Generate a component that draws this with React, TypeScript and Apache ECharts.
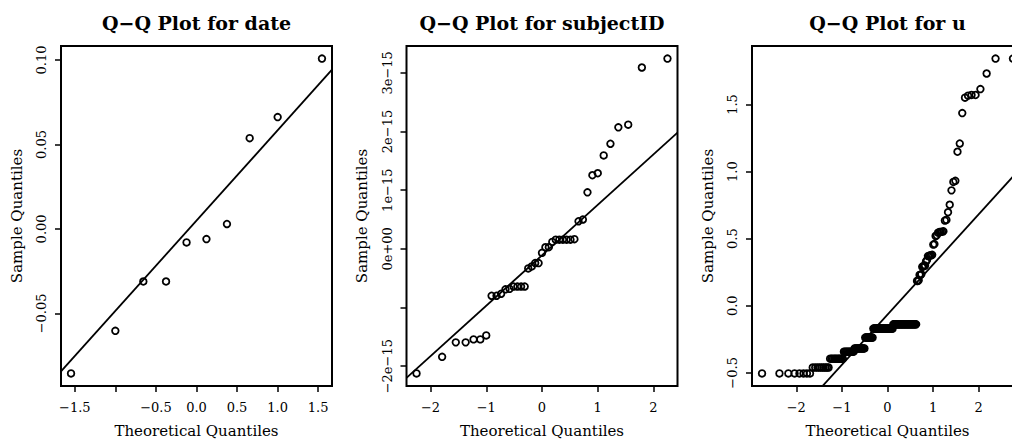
import React, { useEffect, useRef } from "react";
import * as echarts from "echarts";

// ---------- data (sample quantiles, sorted) ----------
const dateSample = [-0.0855, -0.0603, -0.0311, -0.0311, -0.008, -0.006, 0.0029, 0.0537, 0.0662, 0.1008];

// subjectID sample quantiles, in units of 1e-15
const subjectSample = [
  -2.123, -1.841, -1.594, -1.594, -1.543, -1.543, -1.476, -0.8, -0.8, -0.766,
  -0.69, -0.682, -0.642, -0.642, -0.642, -0.642, -0.333, -0.299, -0.243, -0.243,
  -0.068, 0.028, 0.028, 0.118, 0.157, 0.157, 0.157, 0.157, 0.157, 0.165,
  0.47, 0.5, 0.963, 1.255, 1.289, 1.593, 1.791, 2.071, 2.117, 3.091, 3.243,
];

const uSample = [
  -0.504, -0.504, -0.504, -0.504, -0.504, -0.504, -0.504, -0.504,
  -0.46, -0.46, -0.46, -0.46, -0.46, -0.46, -0.46, -0.46, -0.46,
  -0.394, -0.394, -0.394, -0.394, -0.394, -0.394, -0.394, -0.394, -0.394, -0.394, -0.394,
  -0.342, -0.342, -0.342, -0.342, -0.342, -0.342, -0.342, -0.342, -0.342, -0.342, -0.342,
  -0.318, -0.318, -0.318, -0.318, -0.318, -0.318, -0.318, -0.318, -0.318, -0.318, -0.318, -0.318, -0.318,
  -0.237, -0.237, -0.237, -0.237, -0.237, -0.237, -0.237, -0.237, -0.237, -0.237, -0.237,
  -0.17, -0.17, -0.17, -0.17, -0.17, -0.17, -0.17, -0.17, -0.17, -0.17,
  -0.17, -0.17, -0.17, -0.17, -0.17, -0.17, -0.17, -0.17, -0.17, -0.17,
  -0.17, -0.17, -0.17, -0.17, -0.17, -0.17, -0.17, -0.17, -0.17,
  -0.138, -0.138, -0.138, -0.138, -0.138, -0.138, -0.138, -0.138, -0.138, -0.138,
  -0.138, -0.138, -0.138, -0.138, -0.138, -0.138, -0.138, -0.138, -0.138, -0.138,
  -0.138, -0.138, -0.138, -0.138, -0.138, -0.138, -0.138, -0.138, -0.138, -0.138,
  -0.138, -0.138,
  0.185, 0.185, 0.19, 0.23, 0.23, 0.235, 0.29, 0.295, 0.296, 0.3,
  0.33, 0.34, 0.37, 0.372, 0.374, 0.376, 0.38, 0.456, 0.46,
  0.52, 0.525, 0.545, 0.549, 0.55, 0.552, 0.555,
  0.635, 0.64, 0.697, 0.753, 0.86,
  0.923, 0.931, 1.148, 1.209, 1.436,
  1.551, 1.566, 1.571, 1.571, 1.615,
  1.731, 1.842, 1.842,
];

// ---------- ticks / labels ----------
const titles = ["Q\u2212Q Plot for date", "Q\u2212Q Plot for subjectID", "Q\u2212Q Plot for u"];

const dateXTicks = [-1.5, -1, -0.5, 0, 0.5, 1, 1.5];
const dateXLabelValues = [-1.5, -0.5, 0, 0.5, 1, 1.5];
const dateXLabelText = ["\u22121.5", "\u22120.5", "0.0", "0.5", "1.0", "1.5"];
const dateYTicks = [-0.05, 0, 0.05, 0.1];
const dateYLabelText = ["\u22120.05", "0.00", "0.05", "0.10"];

const subjXTicks = [-2, -1, 0, 1, 2];
const subjXLabelText = ["\u22122", "\u22121", "0", "1", "2"];
const subjYTicks = [-2, -1, 0, 1, 2, 3];
const subjYLabelValues = [-2, 0, 1, 2, 3];
const subjYLabelText = ["\u22122e\u221215", "0e+00", "1e\u221215", "2e\u221215", "3e\u221215"];

const uXTicks = [-2, -1, 0, 1, 2];
const uXLabelText = ["\u22122", "\u22121", "0", "1", "2"];
const uYTicks = [-0.5, 0, 0.5, 1, 1.5];
const uYLabelText = ["\u22120.5", "0.0", "0.5", "1.0", "1.5"];

// ---------- helpers (R's qqnorm / qqline) ----------
function qnorm(p: number): number {
  const a = [-3.969683028665376e1, 2.209460984245205e2, -2.759285104469687e2, 1.38357751867269e2, -3.066479806614716e1, 2.506628277459239];
  const b = [-5.447609879822406e1, 1.615858368580409e2, -1.556989798598866e2, 6.680131188771972e1, -1.328068155288572e1];
  const c = [-7.784894002430293e-3, -3.223964580411365e-1, -2.400758277161838, -2.549732539343734, 4.374664141464968, 2.938163982698783];
  const d = [7.784695709041462e-3, 3.224671290700398e-1, 2.445134137142996, 3.754408661907416];
  const pl = 0.02425;
  if (p < pl) {
    const q = Math.sqrt(-2 * Math.log(p));
    return (((((c[0] * q + c[1]) * q + c[2]) * q + c[3]) * q + c[4]) * q + c[5]) / ((((d[0] * q + d[1]) * q + d[2]) * q + d[3]) * q + 1);
  }
  if (p <= 1 - pl) {
    const q = p - 0.5;
    const r = q * q;
    return ((((((a[0] * r + a[1]) * r + a[2]) * r + a[3]) * r + a[4]) * r + a[5]) * q) / (((((b[0] * r + b[1]) * r + b[2]) * r + b[3]) * r + b[4]) * r + 1);
  }
  const q = Math.sqrt(-2 * Math.log(1 - p));
  return -(((((c[0] * q + c[1]) * q + c[2]) * q + c[3]) * q + c[4]) * q + c[5]) / ((((d[0] * q + d[1]) * q + d[2]) * q + d[3]) * q + 1);
}
function theoretical(n: number): number[] {
  const a = n <= 10 ? 0.375 : 0.5;
  const out: number[] = [];
  for (let i = 1; i <= n; i++) out.push(qnorm((i - a) / (n + 1 - 2 * a)));
  return out;
}
function quantile7(s: number[], p: number): number {
  const h = (s.length - 1) * p;
  const lo = Math.floor(h);
  const hi = Math.min(lo + 1, s.length - 1);
  return s[lo] + (h - lo) * (s[hi] - s[lo]);
}
function expand(min: number, max: number): [number, number] {
  const d = (max - min) * 0.04;
  return [min - d, max + d];
}
function labelFor(values: number[], texts: string[]) {
  return (v: number) => {
    let best = 0;
    for (let i = 1; i < values.length; i++) if (Math.abs(values[i] - v) < Math.abs(values[best] - v)) best = i;
    return texts[best];
  };
}

const SERIF = "'DejaVu Serif', serif";

export default function App() {
  const ref = useRef<HTMLDivElement>(null);
  useEffect(() => {
    if (!ref.current) return;
    const chart = echarts.init(ref.current, undefined, { renderer: "svg" });

    const panels = [
      { y: dateSample, xT: dateXTicks, xLV: dateXLabelValues, xLT: dateXLabelText, yT: dateYTicks, yLV: dateYTicks, yLT: dateYLabelText },
      { y: subjectSample, xT: subjXTicks, xLV: subjXTicks, xLT: subjXLabelText, yT: subjYTicks, yLV: subjYLabelValues, yLT: subjYLabelText },
      { y: uSample, xT: uXTicks, xLV: uXTicks, xLT: uXLabelText, yT: uYTicks, yLV: uYTicks, yLT: uYLabelText },
    ];

    const PANEL_W = 345.5;
    const GRID_LEFT = 61;
    const GRID_W = 271;
    const GRID_TOP = 46;
    const GRID_H = 343;

    const grids: any[] = [];
    const xAxes: any[] = [];
    const yAxes: any[] = [];
    const series: any[] = [];
    const graphics: any[] = [];

    panels.forEach((p, k) => {
      const n = p.y.length;
      const xs = theoretical(n);
      const [xmin, xmax] = expand(xs[0], xs[n - 1]);
      const [ymin, ymax] = expand(p.y[0], p.y[n - 1]);
      const y1 = quantile7(p.y, 0.25);
      const y2 = quantile7(p.y, 0.75);
      const x1 = qnorm(0.25);
      const x2 = qnorm(0.75);
      const slope = (y2 - y1) / (x2 - x1);
      const icpt = y1 - slope * x1;

      const left = GRID_LEFT + PANEL_W * k;
      grids.push({ left, top: GRID_TOP, width: GRID_W, height: GRID_H, show: true, borderColor: "#000", borderWidth: 2, backgroundColor: "transparent" });
      xAxes.push({
        type: "value", gridIndex: k, min: xmin, max: xmax, position: "bottom",
        axisLine: { show: false, onZero: false }, splitLine: { show: false },
        axisTick: { show: true, customValues: p.xT, length: 6, inside: false, lineStyle: { color: "#000", width: 1.5 } },
        axisLabel: { customValues: p.xLV, formatter: labelFor(p.xLV, p.xLT), margin: 15, color: "#000", fontFamily: SERIF, fontSize: 13 },
        name: "Theoretical Quantiles", nameLocation: "middle", nameGap: 37,
        nameTextStyle: { color: "#000", fontFamily: SERIF, fontSize: 15 },
      });
      yAxes.push({
        type: "value", gridIndex: k, min: ymin, max: ymax, position: "left",
        axisLine: { show: false, onZero: false }, splitLine: { show: false },
        axisTick: { show: true, customValues: p.yT, length: 6, inside: false, lineStyle: { color: "#000", width: 1.5 } },
        axisLabel: { customValues: p.yLV, formatter: labelFor(p.yLV, p.yLT), rotate: 90, margin: 13, color: "#000", fontFamily: SERIF, fontSize: 13 },
        name: "Sample Quantiles", nameLocation: "middle", nameGap: 37, nameRotate: 90,
        nameTextStyle: { color: "#000", fontFamily: SERIF, fontSize: 15 },
      });
      series.push({
        type: "scatter", xAxisIndex: k, yAxisIndex: k,
        data: xs.map((x, i) => [x, p.y[i]]),
        symbol: "circle", symbolSize: 6.6,
        itemStyle: { color: "rgba(0,0,0,0)", borderColor: "#000", borderWidth: 1.8, opacity: 1 },
        silent: true,
      });
      series.push({
        type: "line", xAxisIndex: k, yAxisIndex: k,
        data: [[xmin, icpt + slope * xmin], [xmax, icpt + slope * xmax]],
        symbol: "none", clip: true, silent: true,
        lineStyle: { color: "#000", width: 1.8 },
      });
      graphics.push({
        type: "text", x: left + GRID_W / 2, y: 23,
        style: { text: titles[k], textAlign: "center", textVerticalAlign: "middle", fill: "#000", font: `bold 19px ${SERIF}` },
      });
    });

    chart.setOption({
      animation: false,
      backgroundColor: "#fff",
      grid: grids,
      xAxis: xAxes,
      yAxis: yAxes,
      series,
      graphic: graphics,
    });
    return () => chart.dispose();
  }, []);

  return (
    <div style={{ position: "fixed", left: 0, top: 0, width: 1012, height: 443, overflow: "hidden", background: "#fff" }}>
      <div ref={ref} style={{ width: 1037, height: 443 }} />
    </div>
  );
}
